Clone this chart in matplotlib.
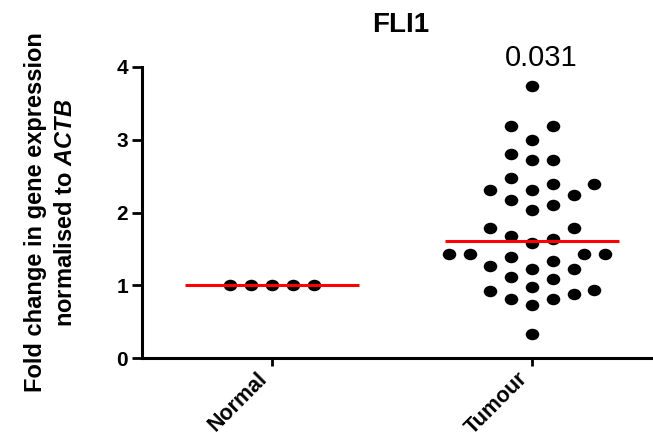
import numpy as np
import matplotlib
matplotlib.use('Agg')
import matplotlib.pyplot as plt
from matplotlib.path import Path
from matplotlib.transforms import Affine2D

plt.rcParams['font.family'] = 'Liberation Sans'
plt.rcParams['mathtext.fontset'] = 'custom'
plt.rcParams['mathtext.rm'] = 'Liberation Sans:bold'
plt.rcParams['mathtext.it'] = 'Liberation Sans:italic:bold'

# data
groups = ['Normal', 'Tumour']
normal = [1.0, 1.0, 1.0, 1.0, 1.0]
tumour = [3.74, 3.19, 3.19, 2.99, 2.80, 2.72, 2.72, 2.47, 2.39, 2.39,
          2.31, 2.31, 2.24, 2.17, 2.10, 2.03, 1.79, 1.79, 1.68, 1.63,
          1.58, 1.43, 1.43, 1.43, 1.43, 1.39, 1.34, 1.26, 1.22, 1.22,
          1.11, 1.08, 0.98, 0.94, 0.92, 0.88, 0.81, 0.81, 0.73, 0.33]
p_value = '0.031'
yticks = [0, 1, 2, 3, 4]

fig = plt.figure(figsize=(6.53, 4.42), dpi=100)
ax = fig.add_axes([142/653, 1 - 358/442, 1 - 142/653, (358 - 67)/442])
ax.set_xlim(-0.5, 1.465)
ax.set_ylim(0, 4)


def swarm(vals, center, step=10.4, min_dx=20.7, min_dy=17.0):
    # simple beeswarm in pixel space
    vals = np.asarray(vals, dtype=float)
    pix = ax.transData.transform(np.column_stack([np.full(len(vals), center), vals]))
    xc = pix[0, 0]
    ypx = pix[:, 1]
    cands = [0.0]
    for k in range(1, 30):
        cands += [k * step, -k * step]
    placed = []
    xo = np.zeros(len(vals))
    for i in np.argsort(vals, kind='stable'):
        for c in cands:
            ok = True
            for px, py in placed:
                if ((c - px) / min_dx) ** 2 + ((ypx[i] - py) / min_dy) ** 2 < 1:
                    ok = False
                    break
            if ok:
                break
        placed.append((c, ypx[i]))
        xo[i] = c
    back = ax.transData.inverted().transform(np.column_stack([xc + xo, ypx]))
    return back[:, 0]


dot = Path.unit_circle().transformed(Affine2D().scale(1.0, 0.85))

for i, vals in enumerate([normal, tumour]):
    xs = swarm(vals, i)
    ax.scatter(xs, vals, s=95, marker=dot, color='black', linewidths=0, zorder=3)
    med = np.median(vals)
    ax.plot([i - 0.333, i + 0.333], [med, med], color='#ff0000', lw=2.2, zorder=4,
            solid_capstyle='butt')

ax.text(1.036, 4.12, p_value, ha='center', va='center', fontsize=21, clip_on=False)
fig.text(401/653, 1 - 25/442, 'FLI1', ha='center', va='center', fontsize=20,
         fontweight='bold')

for s in ['top', 'right']:
    ax.spines[s].set_visible(False)
for s in ['left', 'bottom']:
    ax.spines[s].set_linewidth(2.2)

ax.set_yticks(yticks)
ax.set_yticklabels([str(t) for t in yticks], fontsize=15, fontweight='bold')
ax.tick_params(axis='y', length=7, width=2, pad=3)
ax.set_xticks(range(len(groups)))
ax.set_xticklabels(groups, rotation=45, ha='right', fontsize=15.5, fontweight='bold')
ax.tick_params(axis='x', length=5.5, width=2, pad=2)

ax.set_ylabel('Fold change in gene expression\nnormalised to $\\mathit{ACTB}$',
              fontsize=17, fontweight='bold', linespacing=1.4)
ax.yaxis.set_label_coords(-0.127, 0.5)

fig.savefig('out.png', dpi=100)
